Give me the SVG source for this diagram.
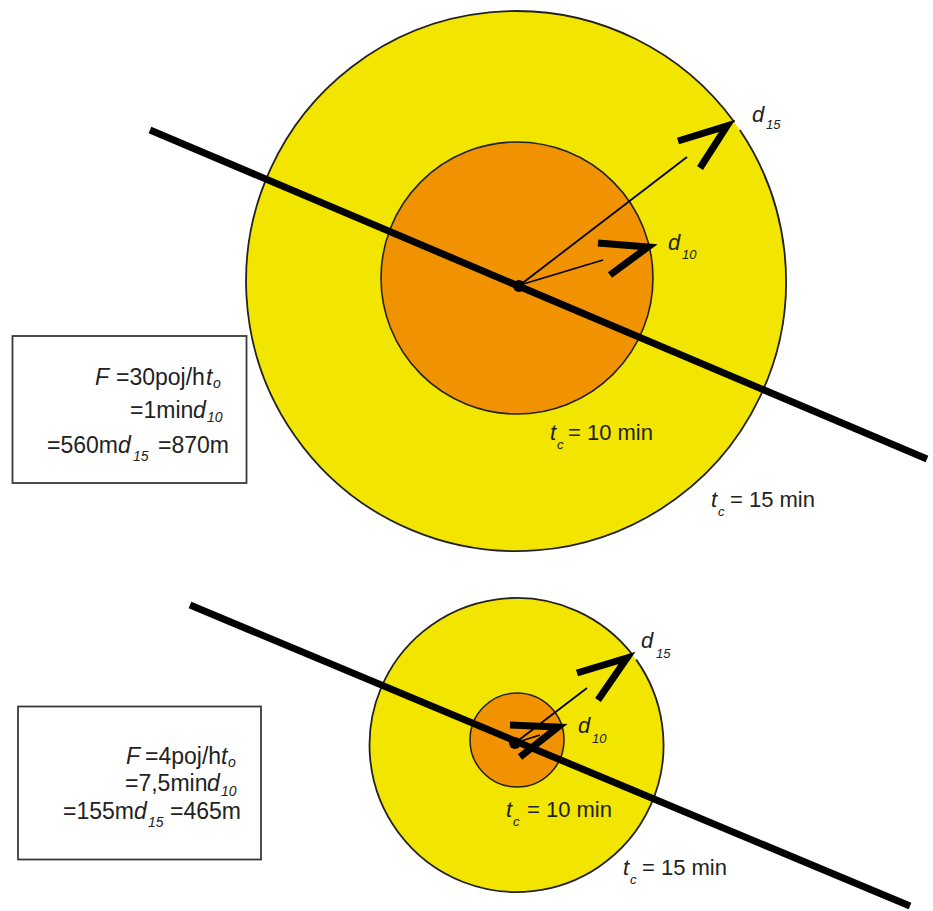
<svg xmlns="http://www.w3.org/2000/svg" width="933" height="911" viewBox="0 0 933 911">
<style>
.y{fill:#F2E500;}
.o{fill:#F19200;stroke:#222;stroke-width:1.6;}
.rim{fill:none;stroke:#222;stroke-width:1.8;}
.road{stroke:#000;stroke-width:7;stroke-linecap:butt;fill:none;}
.thin{stroke:#000;stroke-width:1.8;fill:none;}
.chev{stroke:#000;stroke-width:7;fill:none;stroke-linejoin:miter;stroke-linecap:butt;}
.box{fill:#fff;stroke:#3a3a3a;stroke-width:1.8;}
text{font-family:"Liberation Sans",Arial,sans-serif;fill:#222;}
.t{font-size:22px;}
.b{font-size:23px;}
.i{font-style:italic;}
.s{font-size:13px;font-style:italic;}
.s2{font-size:14px;font-style:italic;}
</style>
<rect width="933" height="911" fill="#fff"/>
<g id="zone-top">
<circle class="y" cx="516" cy="281" r="270"/>
<path class="rim" d="M739.84,130.02 A270,270 0 1 1 734.43,122.30"/>
<circle class="o" cx="517" cy="278" r="136"/>
</g>
<g id="zone-bottom">
<circle class="y" cx="516.5" cy="745" r="147"/>
<path class="rim" d="M636.18,659.64 A147,147 0 1 1 632.34,654.50"/>
<circle class="o" cx="517" cy="740" r="47"/>
</g>
<g id="connectors">
<line class="road" x1="150" y1="130" x2="927" y2="459"/>
<line class="thin" x1="520" y1="285" x2="687" y2="157"/>
<polyline class="chev" points="678,141 727,126 700,168"/>
<line class="thin" x1="520" y1="285" x2="603" y2="260"/>
<polyline class="chev" points="598,243 648,247 610,275"/>
<line class="road" x1="190" y1="605" x2="910" y2="906"/>
<line class="thin" x1="515" y1="743" x2="587" y2="688"/>
<polyline class="chev" points="577,673 627,658 598,700"/>
<line class="thin" x1="515" y1="743" x2="540" y2="735"/>
<polyline class="chev" points="510,725 558,727 520,757"/>
</g>
<g id="stop-top"><circle cx="519" cy="286" r="6" fill="#000"/></g>
<g id="stop-bottom"><circle cx="515" cy="743" r="6" fill="#000"/></g>
<g id="labels-top">
<text class="t" y="122"><tspan class="i" x="752">d</tspan><tspan class="s" x="766" y="129">15</tspan></text>
<text class="t" y="250"><tspan class="i" x="668">d</tspan><tspan class="s" x="682" y="259">10</tspan></text>
<text class="t" y="440"><tspan class="i" x="550">t</tspan><tspan class="s" x="557" y="449">c</tspan><tspan x="568" y="440">= 10 min</tspan></text>
<text class="t" y="507"><tspan class="i" x="711">t</tspan><tspan class="s" x="718" y="516">c</tspan><tspan x="730" y="507">= 15 min</tspan></text>
</g>
<g id="labels-bottom">
<text class="t" y="648"><tspan class="i" x="641">d</tspan><tspan class="s" x="656" y="658">15</tspan></text>
<text class="t" y="733"><tspan class="i" x="578">d</tspan><tspan class="s" x="592" y="743">10</tspan></text>
<text class="t" y="817"><tspan class="i" x="506">t</tspan><tspan class="s" x="513" y="826">c</tspan><tspan x="527" y="817">= 10 min</tspan></text>
<text class="t" y="875"><tspan class="i" x="623">t</tspan><tspan class="s" x="630" y="884">c</tspan><tspan x="642" y="875">= 15 min</tspan></text>
</g>
<g id="box-top">
<rect class="box" x="12.5" y="336" width="234" height="147"/>
<text class="b" y="385"><tspan class="i" x="95">F</tspan><tspan x="116">=30poj/h</tspan><tspan class="i" x="206">t</tspan><tspan class="s2" x="213" y="388">o</tspan></text>
<text class="b" y="418"><tspan x="130">=1min</tspan><tspan class="i" x="193">d</tspan><tspan class="s2" x="207" y="422">10</tspan></text>
<text class="b" y="453"><tspan x="47">=560m</tspan><tspan class="i" x="118">d</tspan><tspan class="s2" x="133" y="461">15</tspan><tspan x="158" y="453">=870m</tspan></text>
</g>
<g id="box-bottom">
<rect class="box" x="18" y="706.5" width="243" height="153"/>
<text class="b" y="764"><tspan class="i" x="126">F</tspan><tspan x="145">=4poj/h</tspan><tspan class="i" x="221">t</tspan><tspan class="s2" x="228" y="767">o</tspan></text>
<text class="b" y="791"><tspan x="125">=7,5min</tspan><tspan class="i" x="207">d</tspan><tspan class="s2" x="221" y="796">10</tspan></text>
<text class="b" y="819"><tspan x="63">=155m</tspan><tspan class="i" x="134">d</tspan><tspan class="s2" x="148" y="827">15</tspan><tspan x="170" y="819">=465m</tspan></text>
</g>
</svg>
